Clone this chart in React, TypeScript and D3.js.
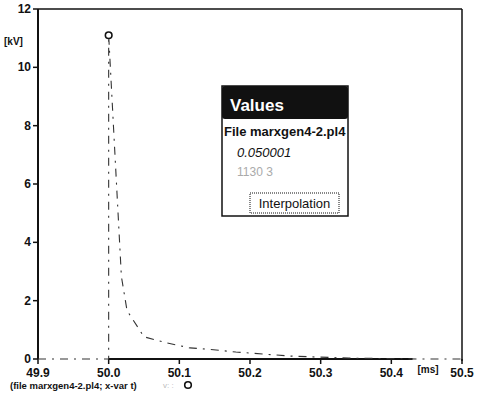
import React from "react";
import * as d3 from "d3";

const xTicks = [49.9, 50.0, 50.1, 50.2, 50.3, 50.4, 50.5];
const yTicks = [0, 2, 4, 6, 8, 10, 12];
const traceTime = [49.9, 50.0, 50.0, 50.018, 50.026, 50.05, 50.083, 50.115, 50.138, 50.18, 50.257, 50.34, 50.44, 50.5];
const traceKV = [0, 0, 11.1, 2.83, 1.66, 0.76, 0.55, 0.38, 0.34, 0.24, 0.1, 0.03, 0, 0];
const baseTime = [50.0, 50.43];
const baseKV = [0, 0];
const markerTime = [50.0];
const markerKV = [11.1];
const popupLines = ["File marxgen4-2.pl4", "0.050001", "1130 3"];

const W = 480, H = 400;
const left = 38, right = 462, top = 9, bottom = 359;

export default function App() {
  const x = d3.scaleLinear().domain([49.9, 50.5]).range([left, right]);
  const y = d3.scaleLinear().domain([0, 12]).range([bottom, top]);
  const line = d3.line<number>().x((_, i) => x(traceTime[i])).y((d) => y(d));
  const baseLine = d3.line<number>().x((_, i) => x(baseTime[i])).y((d) => y(d));
  const font = "'Liberation Sans', Arial, sans-serif";
  return (
    <svg width={W} height={H} style={{ position: "absolute", left: 0, top: 0, background: "#fff" }} fontFamily={font}>
      <rect x={0} y={0} width={W} height={H} fill="#fff" />
      {/* frame */}
      <line x1={left} x2={right} y1={top} y2={top} stroke="#111" strokeWidth={1.5} />
      <line x1={right} x2={right} y1={top} y2={bottom + 2} stroke="#111" strokeWidth={1.5} />
      <line x1={left} x2={left} y1={top} y2={bottom} stroke="#111" strokeWidth={2} />
      {/* y ticks */}
      {yTicks.map((t) => (
        <g key={"y" + t}>
          <line x1={left - 5} x2={left} y1={y(t)} y2={y(t)} stroke="#111" strokeWidth={1.5} />
          <text x={left - 7} y={y(t) + 4} textAnchor="end" fontSize={12} fontWeight={600} fill="#111">{t}</text>
        </g>
      ))}
      <text x={4} y={45} fontSize={10} fontWeight={600} fill="#111">[kV]</text>
      {/* x ticks */}
      {xTicks.map((t) => (
        <g key={"x" + t}>
          <line x1={x(t)} x2={x(t)} y1={bottom} y2={bottom + 5} stroke="#111" strokeWidth={1.5} />
          <text x={x(t)} y={bottom + 18} textAnchor="middle" fontSize={12} fontWeight={600} fill="#111">{t.toFixed(1)}</text>
        </g>
      ))}
      <text x={428} y={bottom + 14} textAnchor="middle" fontSize={10} fontWeight={600} fill="#111">[ms]</text>
      {/* baseline trace */}
      <path d={baseLine(baseKV) || ""} fill="none" stroke="#111" strokeWidth={2} />
      {/* main trace */}
      <path d={line(traceKV) || ""} fill="none" stroke="#333" strokeWidth={1.1} strokeDasharray="8,6,2,6" />
      {markerKV.map((v, i) => (
        <circle key={"m" + i} cx={x(markerTime[i])} cy={y(v)} r={3.3} fill="#fff" stroke="#111" strokeWidth={1.6} />
      ))}
      {/* legend */}
      <text x={10} y={389} fontSize={9.5} fontWeight={600} fill="#111">(file marxgen4-2.pl4; x-var t)</text>
      <text x={163} y={388} fontSize={8} fill="#bbb">v: :</text>
      <circle cx={188} cy={385} r={3.3} fill="#fff" stroke="#111" strokeWidth={1.6} />
      {/* popup */}
      <g>
        <rect x={222} y={86} width={126} height={130} fill="#fff" stroke="#111" strokeWidth={1.5} />
        <rect x={222} y={86} width={126} height={33} fill="#111" rx={3} />
        <text x={230} y={111} fontSize={17} fontWeight={700} fill="#fff">Values</text>
        <svg x={222} y={119} width={126} height={97}>
          <text x={2} y={17} fontSize={13} fontWeight={700} fill="#111">{popupLines[0]}</text>
          <text x={15} y={38} fontSize={13} fontStyle="italic" fill="#111">{popupLines[1]}</text>
          <text x={15} y={57} fontSize={12} fill="#aaa">{popupLines[2]}</text>
        </svg>
        <rect x={250} y={193} width={89} height={20} fill="#fff" stroke="#111" strokeWidth={1} strokeDasharray="1,1" />
        <text x={294.5} y={208} textAnchor="middle" fontSize={13} fill="#111">Interpolation</text>
      </g>
    </svg>
  );
}
